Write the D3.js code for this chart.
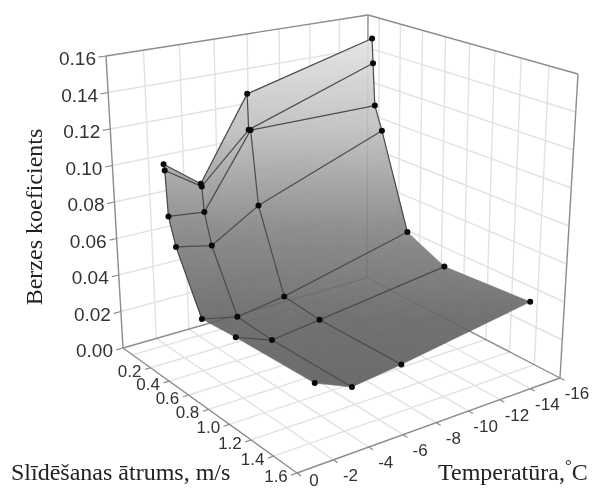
<!DOCTYPE html>
<html>
<head>
<meta charset="utf-8">
<script src="https://cdn.jsdelivr.net/npm/d3@7"></script>
<style>
body { margin: 0; background: #fff; }
svg { display: block; filter: blur(0.45px); }
.tick-label { font-family: "Liberation Sans", sans-serif; font-size: 17px; fill: #333; }
.tick-label.big { font-size: 19px; }
.title { font-family: "Liberation Serif", serif; font-size: 24px; fill: #222; }
</style>
</head>
<body>
<div id="chart"></div>
<script>
// values
var temps = [-2.3, -4.4, -7.3, -15.5];
var speeds = [0, 0.01, 0.03, 0.1, 0.35, 0.69, 1.4];
var friction = [
    [0.0989, 0.0838, 0.1290, 0.1485],
    [0.0957, 0.0826, 0.1088, 0.1338],
    [0.0710, 0.0688, 0.1091, 0.1088],
    [0.0563, 0.0522, 0.0682, 0.0954],
    [0.0251, 0.0209, 0.0248, 0.0421],
    [0.0268, 0.0198, 0.0230, 0.0322],
    [0.0288, 0.0208, 0.0240, 0.0349]
];
var tempTicks = [0, -2, -4, -6, -8, -10, -12, -14, -16];
var speedTicks = [0.2, 0.4, 0.6, 0.8, 1.0, 1.2, 1.4, 1.6];
var frictionTicks = [0, 0.02, 0.04, 0.06, 0.08, 0.1, 0.12, 0.14, 0.16];

var width = 595,
    height = 490;

// where the box corners land on the page: left, back, right, front
var floorCorners = [[123, 348], [367, 278], [560, 378], [297, 473]],
    topCorners = [[106, 56], [368, 15], [578, 74], [293, 138]];

var t = d3.scaleLinear().domain([0, -16]).range([0, 1]),
    v = d3.scaleLinear().domain([-0.11, 1.6]).range([0, 1]),
    f = d3.scaleLinear().domain([0, 0.16]).range([0, 1]);

// unit square to quad, perspective
function homography(c) {
    var x0 = c[0][0], y0 = c[0][1], x1 = c[1][0], y1 = c[1][1],
        x2 = c[2][0], y2 = c[2][1], x3 = c[3][0], y3 = c[3][1];
    var dx1 = x1 - x2, dx2 = x3 - x2, sx = x0 - x1 + x2 - x3,
        dy1 = y1 - y2, dy2 = y3 - y2, sy = y0 - y1 + y2 - y3,
        den = dx1 * dy2 - dx2 * dy1;
    var g = (sx * dy2 - dx2 * sy) / den,
        h = (dx1 * sy - sx * dy1) / den,
        a = x1 - x0 + g * x1, b = x3 - x0 + h * x3,
        d = y1 - y0 + g * y1, e = y3 - y0 + h * y3;
    return function (u, w) {
        var q = g * u + h * w + 1;
        return [(a * u + b * w + x0) / q, (d * u + e * w + y0) / q];
    };
}

var floorMap = homography(floorCorners),
    topMap = homography(topCorners);

function project(u, w, z) {
    var a = floorMap(u, w), b = topMap(u, w);
    return [a[0] + (b[0] - a[0]) * z, a[1] + (b[1] - a[1]) * z];
}

// data coordinates to page
function pt(temp, speed, fr) {
    return project(t(temp), v(speed), f(fr));
}

var line = d3.line();

var svg = d3.select("#chart").append("svg")
    .attr("width", width)
    .attr("height", height);

var defs = svg.append("defs");
var grad = defs.append("linearGradient")
    .attr("id", "surfaceFill")
    .attr("gradientUnits", "userSpaceOnUse")
    .attr("x1", 0).attr("x2", 0).attr("y1", 35).attr("y2", 390);
[[0, "#e5e5e5"], [0.27, "#bdbdbd"], [0.55, "#828282"], [0.8, "#636363"], [1, "#5c5c5c"]].forEach(function (s) {
    grad.append("stop").attr("offset", s[0]).attr("stop-color", s[1]);
});

function seg(g, a, b, color, w) {
    g.append("path").attr("d", line([a, b])).attr("fill", "none")
        .attr("stroke", color).attr("stroke-width", w);
}

// walls and floor grid
var grid = svg.append("g");
var gridColor = "#e2e2e2";
var vGrid = [0].concat(speedTicks.slice(0, -1));
var tGrid = tempTicks.slice(1, -1);
var fGrid = frictionTicks.slice(1, -1);

tGrid.forEach(function (d) {
    seg(grid, project(t(d), 0, 0), project(t(d), 0, 1), gridColor, 1.4);
    seg(grid, project(t(d), 0, 0), project(t(d), 1, 0), gridColor, 1.4);
});
vGrid.forEach(function (d) {
    seg(grid, project(1, v(d), 0), project(1, v(d), 1), gridColor, 1.4);
    seg(grid, project(0, v(d), 0), project(1, v(d), 0), gridColor, 1.4);
});
fGrid.forEach(function (d) {
    seg(grid, project(0, 0, f(d)), project(1, 0, f(d)), gridColor, 1.4);
    seg(grid, project(1, 0, f(d)), project(1, 1, f(d)), gridColor, 1.4);
});

// box frame
var frame = svg.append("g");
var frameColor = "#8c8c8c";
seg(frame, project(0, 0, 0), project(0, 0, 1), frameColor, 1.4);
seg(frame, project(1, 0, 0), project(1, 0, 1), frameColor, 1.4);
seg(frame, project(1, 1, 0), project(1, 1, 1), frameColor, 1.4);
seg(frame, project(0, 0, 1), project(1, 0, 1), frameColor, 1.4);
seg(frame, project(1, 0, 1), project(1, 1, 1), frameColor, 1.4);
seg(frame, project(0, 0, 0), project(1, 0, 0), frameColor, 1.4);
seg(frame, project(1, 0, 0), project(1, 1, 0), frameColor, 1.4);
seg(frame, project(0, 0, 0), project(0, 1, 0), frameColor, 1.4);
seg(frame, project(0, 1, 0), project(1, 1, 0), frameColor, 1.4);

// axis ticks
frictionTicks.forEach(function (d) {
    seg(frame, project(-0.025, 0, f(d)), project(0, 0, f(d)), frameColor, 1.2);
    var p = project(0, 0, f(d));
    svg.append("text").attr("class", "tick-label big")
        .attr("x", p[0] - 10).attr("y", p[1] + 9)
        .attr("text-anchor", "end")
        .text(d3.format(".2f")(d));
});
speedTicks.forEach(function (d) {
    seg(frame, project(-0.02, v(d), 0), project(0, v(d), 0), frameColor, 1.2);
    var p = project(0, v(d), 0);
    svg.append("text").attr("class", "tick-label")
        .attr("x", p[0] - 21).attr("y", p[1] + 9)
        .attr("text-anchor", "middle")
        .text(d3.format(".1f")(d));
});
tempTicks.forEach(function (d) {
    seg(frame, project(t(d), 1, 0), project(t(d), 1.02, 0), frameColor, 1.2);
    var p = project(t(d), 1, 0);
    svg.append("text").attr("class", "tick-label")
        .attr("x", p[0] + 17).attr("y", Math.min(p[1] + 21, 486))
        .attr("text-anchor", "middle")
        .text(d);
});

// surface, one flat-opacity group so the cells don't double up
var cells = [];
d3.range(speeds.length - 1).forEach(function (r) {
    d3.range(temps.length - 1).forEach(function (c) {
        cells.push([
            pt(temps[c], speeds[r], friction[r][c]),
            pt(temps[c + 1], speeds[r], friction[r][c + 1]),
            pt(temps[c + 1], speeds[r + 1], friction[r + 1][c + 1]),
            pt(temps[c], speeds[r + 1], friction[r + 1][c])
        ]);
    });
});

svg.append("g")
    .attr("opacity", 0.9)
    .selectAll("path")
    .data(cells)
    .enter().append("path")
    .attr("d", function (d) { return line(d) + "Z"; })
    .attr("fill", "url(#surfaceFill)")
    .attr("stroke", "url(#surfaceFill)")
    .attr("stroke-width", 0.6);

// mesh lines, the flat edges of the surface have none in the original
var mesh = svg.append("g");
var meshColor = "#4a4a4a";
speeds.forEach(function (sp, r) {
    if (r === speeds.length - 1) return;
    d3.range(temps.length - 1).forEach(function (c) {
        seg(mesh, pt(temps[c], sp, friction[r][c]), pt(temps[c + 1], sp, friction[r][c + 1]), meshColor, 1.2);
    });
});
temps.forEach(function (te, c) {
    d3.range(speeds.length - 1).forEach(function (r) {
        var edge = (c === 0 || c === temps.length - 1) && r >= 4;
        if (edge) return;
        seg(mesh, pt(te, speeds[r], friction[r][c]), pt(te, speeds[r + 1], friction[r + 1][c]), meshColor, 1.2);
    });
});

// measured points
speeds.forEach(function (sp, r) {
    temps.forEach(function (te, c) {
        var p = pt(te, sp, friction[r][c]);
        svg.append("circle").attr("cx", p[0]).attr("cy", p[1]).attr("r", 3).attr("fill", "#0a0a0a");
    });
});

// axis titles
svg.append("text").attr("class", "title")
    .attr("transform", "translate(42,217)rotate(-90)")
    .attr("text-anchor", "middle")
    .text("Berzes koeficients");
svg.append("text").attr("class", "title")
    .attr("x", 11).attr("y", 480)
    .text("Slīdēšanas ātrums, m/s");
var tempTitle = svg.append("text").attr("class", "title")
    .attr("x", 438).attr("y", 480);
tempTitle.append("tspan").text("Temperatūra,");
tempTitle.append("tspan").attr("dy", -9).attr("font-size", 17).text("°");
tempTitle.append("tspan").attr("dy", 9).text("C");
</script>
</body>
</html>
